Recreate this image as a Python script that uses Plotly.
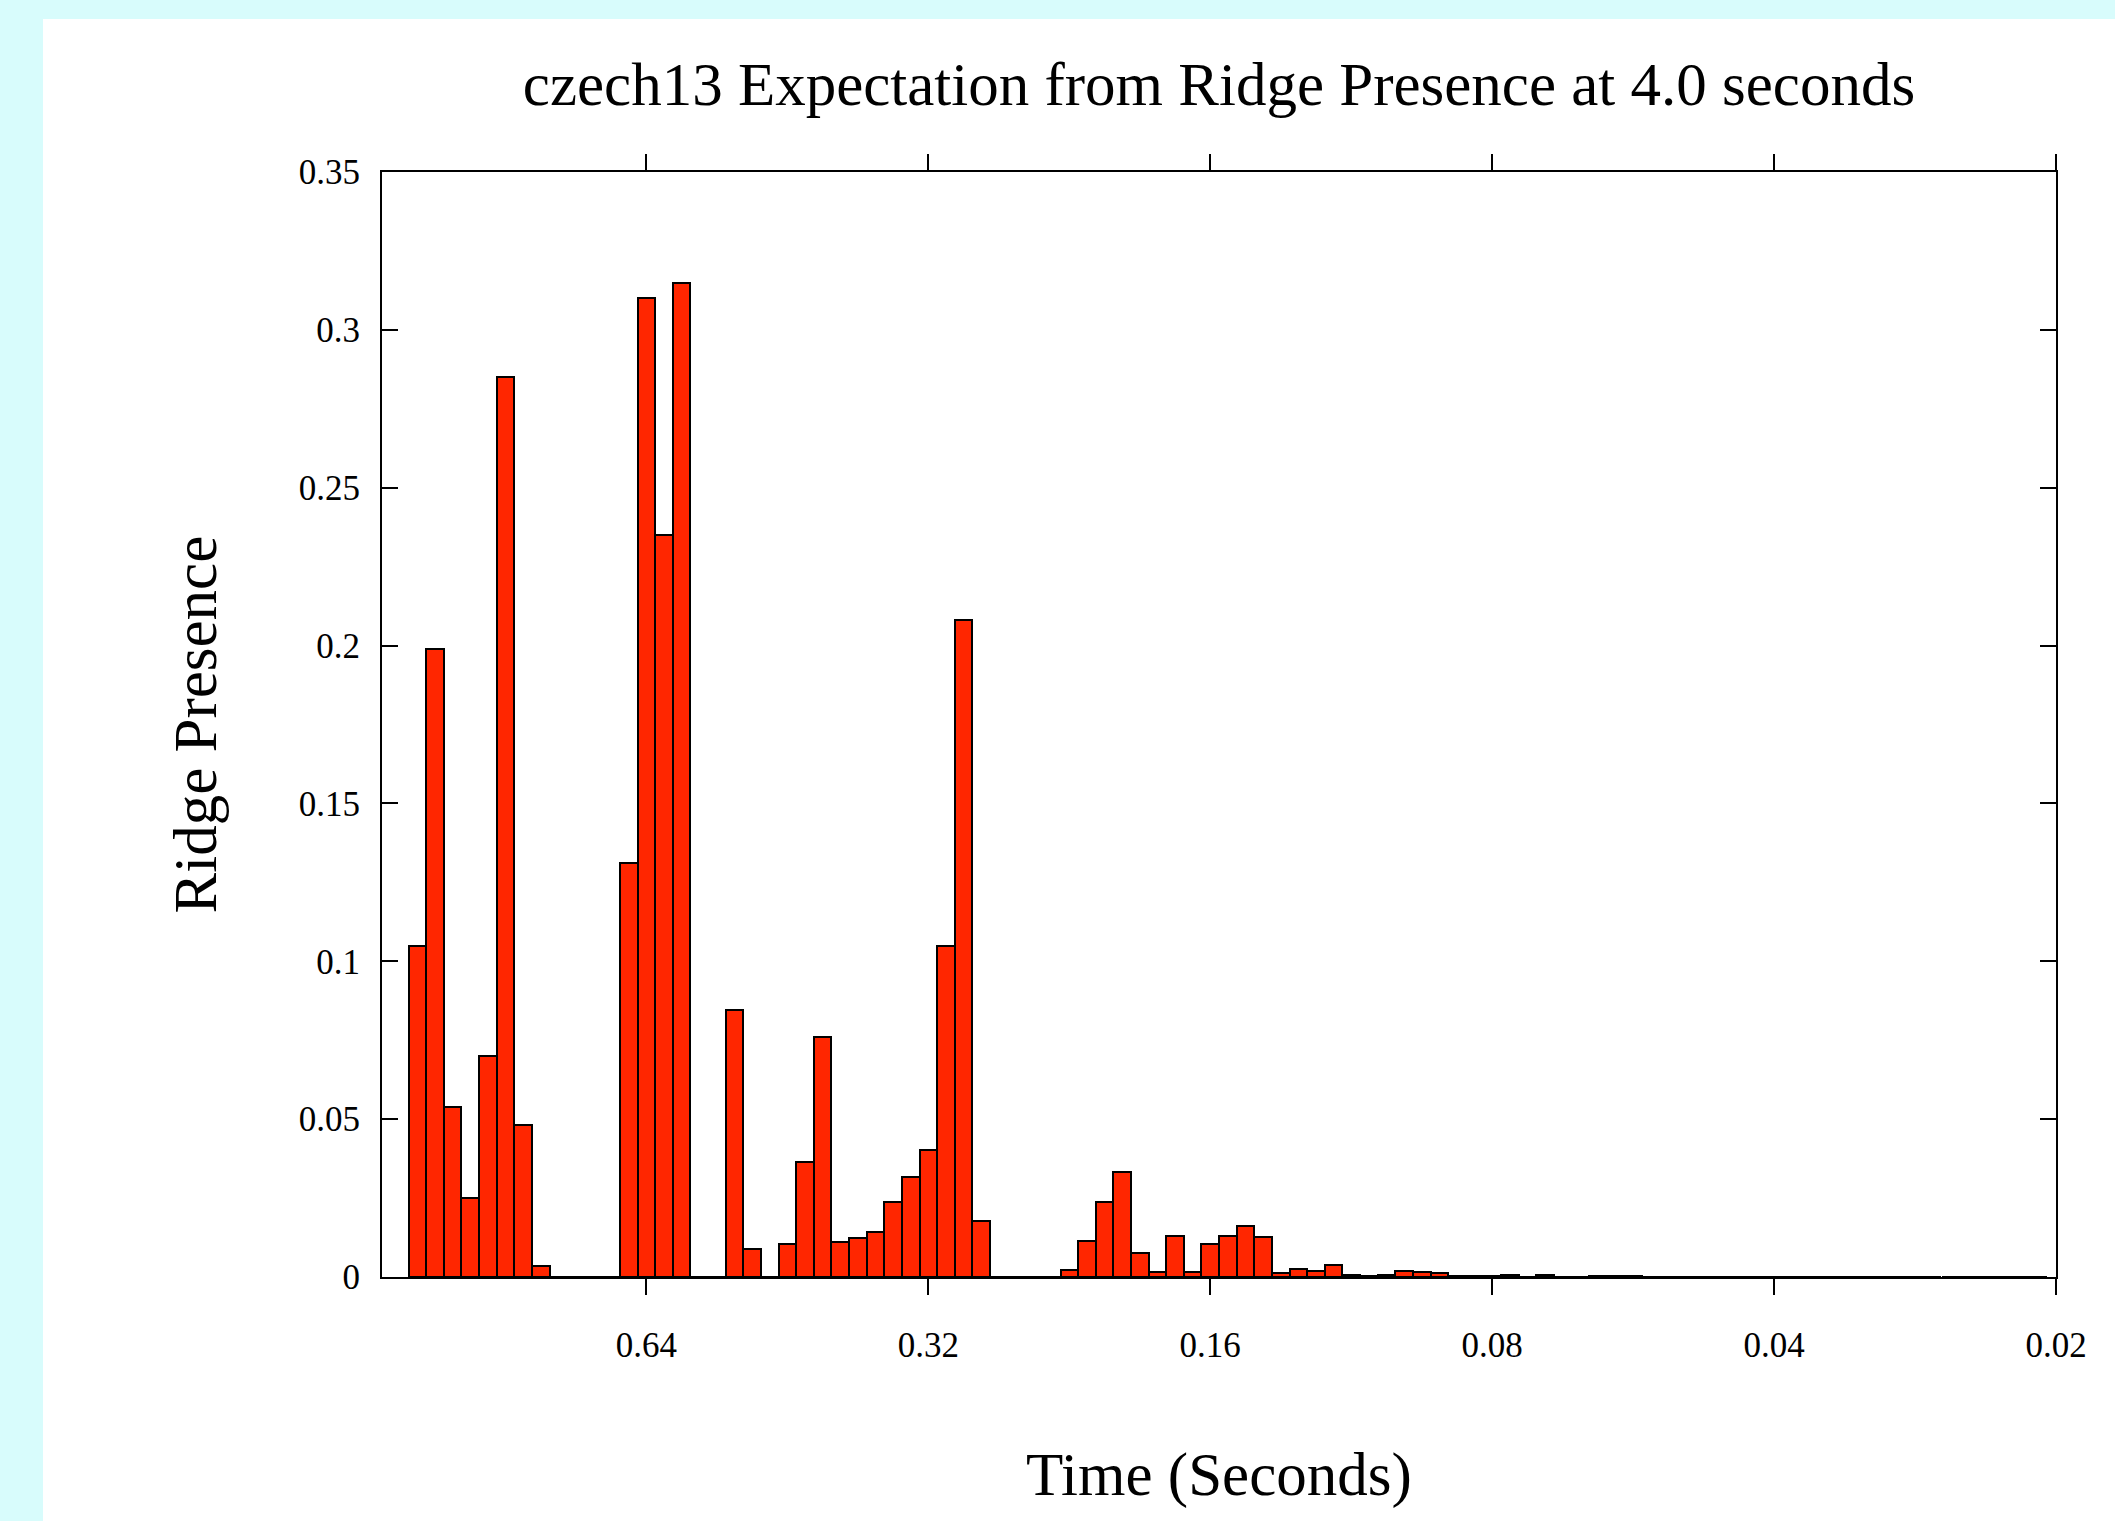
import math
import plotly.graph_objects as go

# Bin centres (seconds), 1/16-octave bins, from left (long) to right (short)
times = [
    1.1240, 1.0763, 1.0307, 0.98702, 0.94517, 0.90510, 0.86672, 0.82998,
    0.79479, 0.76109, 0.72883, 0.69793, 0.66834, 0.64000,
    0.61287, 0.58688, 0.56200, 0.53817, 0.51536, 0.49351, 0.47258, 0.45255,
    0.43336, 0.41499, 0.39739, 0.38055, 0.36441, 0.34896, 0.33417, 0.32000,
    0.30643, 0.29344, 0.28100, 0.26909, 0.25768, 0.24675, 0.23629, 0.22627,
    0.21668, 0.20749, 0.19870, 0.19027, 0.18221, 0.17448, 0.16708, 0.16000,
    0.15322, 0.14672, 0.14050, 0.13454, 0.12884, 0.12338, 0.11815, 0.11314,
    0.10834, 0.10375, 0.09935, 0.09514, 0.09110, 0.08724, 0.08354, 0.08000,
    0.07661, 0.07336, 0.07025, 0.06727, 0.06442, 0.06169, 0.05907, 0.05657,
    0.05417, 0.05187, 0.04967, 0.04757, 0.04555, 0.04362, 0.04177, 0.04000,
    0.03830, 0.03668, 0.03513, 0.03364, 0.03221, 0.03084, 0.02954, 0.02828,
    0.02709, 0.02594, 0.02484, 0.02378, 0.02278, 0.02181, 0.02089,
]

presence = [
    0.105, 0.199, 0.054, 0.025, 0.070, 0.285, 0.048, 0.0035,
    0.0, 0.0, 0.0, 0.0, 0.131, 0.310,
    0.235, 0.315, 0.0, 0.0, 0.0845, 0.009, 0.0, 0.0105,
    0.0365, 0.076, 0.011, 0.0124, 0.0143, 0.0237, 0.0318, 0.0402,
    0.105, 0.208, 0.0177, 0.0, 0.0, 0.0, 0.0, 0.0021,
    0.0114, 0.0237, 0.0333, 0.0075, 0.0017, 0.0131, 0.0017, 0.0105,
    0.0129, 0.0161, 0.0128, 0.0013, 0.0024, 0.0018, 0.0039, 0.0005,
    0.0002, 0.0006, 0.0018, 0.0016, 0.0012, 0.0004, 0.0002, 0.0002,
    0.0005, 0.0001, 0.0005, 0.0001, 0.0001, 0.0002, 0.0002, 0.0002,
    0.0, 0.0, 0.0, 0.0, 0.0, 0.0, 0.0, 0.0,
    0.0, 0.0, 0.0, 0.0, 0.0, 0.0, 0.0, 0.0,
    0.0, 0.0, 0.0, 0.0, 0.0, 0.0, 0.0,
]

x_tickvals = [0.64, 0.32, 0.16, 0.08, 0.04, 0.02]
x_ticktext = ["0.64", "0.32", "0.16", "0.08", "0.04", "0.02"]
y_tickvals = [0, 0.05, 0.1, 0.15, 0.2, 0.25, 0.3, 0.35]
y_ticktext = ["0", "0.05", "0.1", "0.15", "0.2", "0.25", "0.3", "0.35"]

title_text = "czech13 Expectation from Ridge Presence at 4.0 seconds"
x_title = "Time (Seconds)"
y_title = "Ridge Presence"

# bar widths (data units on a log axis): edges at geometric means of neighbours
n = len(times)
edges = []
for i in range(n + 1):
    if i == 0:
        edges.append(times[0] * math.sqrt(times[0] / times[1]))
    elif i == n:
        edges.append(times[-1] * math.sqrt(times[-1] / times[-2]))
    else:
        edges.append(math.sqrt(times[i - 1] * times[i]))
widths = [edges[i] - edges[i + 1] for i in range(n)]

FONT = "Liberation Serif, Times New Roman, serif"
W, H = 2115, 1521
L, R, T, B = 382, 2056, 172, 1277
pw, ph = R - L, B - T

fig = go.Figure()
fig.add_trace(go.Bar(
    x=times, y=presence, width=widths,
    marker=dict(color="#ff2600", line=dict(color="black", width=2)),
    showlegend=False, hoverinfo="x+y",
))

fig.update_layout(
    width=W, height=H,
    margin=dict(l=L, r=W - R, t=T, b=H - B, pad=0),
    paper_bgcolor="#d8fcfc",
    plot_bgcolor="white",
    font=dict(family=FONT, color="black"),
    title=dict(text=title_text, font=dict(family=FONT, size=61, color="black"),
               x=0.5, xref="paper", xanchor="center",
               y=1 - 84 / H, yref="container", yanchor="middle"),
    bargap=0,
    shapes=[dict(type="rect", xref="paper", yref="paper", layer="below",
                 x0=(43 - L) / pw, x1=(W + 10 - L) / pw,
                 y0=(B - H - 10) / ph, y1=(B - 19) / ph,
                 fillcolor="white", line=dict(width=0))],
    annotations=[
        dict(text=x_title, xref="paper", yref="paper", x=0.5, y=(B - 1475) / ph,
             xanchor="center", yanchor="middle", showarrow=False,
             font=dict(family=FONT, size=61, color="black")),
        dict(text=y_title, xref="paper", yref="paper", x=(195 - L) / pw, y=0.5,
             xanchor="center", yanchor="middle", showarrow=False, textangle=-90,
             font=dict(family=FONT, size=61, color="black")),
    ],
)

fig.update_xaxes(
    type="log",
    range=[math.log10(0.64 * 2 ** (15 / 16)), math.log10(0.02)],
    tickvals=x_tickvals, ticktext=x_ticktext,
    ticks="outside", ticklen=16, tickwidth=2, tickcolor="black",
    mirror="ticks", showline=True, linewidth=2, linecolor="black",
    showgrid=False, zeroline=False,
    tickfont=dict(family=FONT, size=35, color="black"),
    ticklabelstandoff=20,
)
fig.update_yaxes(
    range=[0, 0.35],
    tickvals=y_tickvals, ticktext=y_ticktext,
    ticks="inside", ticklen=16, tickwidth=2, tickcolor="black",
    mirror="ticks", showline=True, linewidth=2, linecolor="black",
    showgrid=False, zeroline=False,
    tickfont=dict(family=FONT, size=35, color="black"),
    ticklabelstandoff=13,
)

fig.write_html(
    "out.html",
    config={"displayModeBar": False},
    post_script="document.body.style.margin='0';document.body.style.overflow='hidden';",
)
